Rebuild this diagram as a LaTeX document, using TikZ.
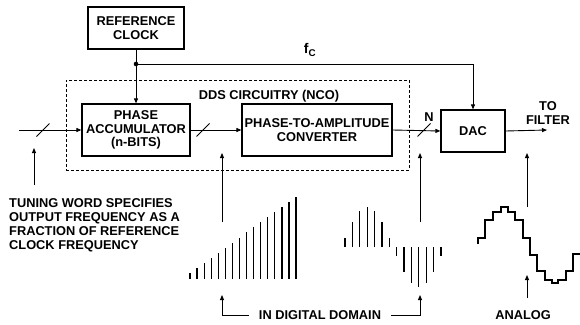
\documentclass[tikz,border=0pt]{standalone}
\usepackage{fontspec}
\setmainfont{Liberation Sans}
\usetikzlibrary{arrows.meta, positioning, calc}

\begin{document}
\begin{tikzpicture}[
        x=1pt, y=-1pt,
        block/.style={draw, line width=1.2pt, align=center, inner sep=0pt},
        sig/.style={line width=0.9pt, -{Triangle[length=5pt,width=4pt]}},
        bar/.style={line width=1.2pt},
        slash/.style={line width=0.9pt},
        every node/.style={font=\fontsize{12.8}{13.8}\selectfont\bfseries}
    ]
    \useasboundingbox (0,0) rectangle (580,324);

    % Blocks
    \node[block, minimum width=96pt, minimum height=42pt] (refclk) at (136,28) {REFERENCE\\CLOCK};
    \node[draw, dashed, line width=0.9pt, dash pattern=on 3pt off 2pt,
          minimum width=343pt, minimum height=90pt] (dds) at (237.5,125) {};
    \node (ddslabel) at (269,96) {DDS CIRCUITRY (NCO)};
    \node[block, minimum width=108pt, minimum height=52pt] (accum) at (136,130) {PHASE\\ACCUMULATOR\\(n-BITS)};
    \node[block, minimum width=150pt, minimum height=52pt] (p2a) at (317,130) {PHASE-TO-AMPLITUDE\\CONVERTER};
    \node[block, minimum width=64pt, minimum height=42pt] (dac) at (473,131) {DAC};

    % Signal path
    \coordinate (tw) at (19,130);
    \coordinate (out) at (547,130);
    \coordinate (tap) at (136,64);
    \draw[sig] (tw) -- (accum.west);
    \draw[sig] (accum.east) -- (p2a.west);
    \draw[sig] (p2a.east) -- (dac.west);
    \draw[sig] (dac.east) -- (out);
    \draw[sig] (refclk.south) -- (accum.north);
    \draw[sig] (tap) -| (dac.north);
    \fill (tap) circle (2.3pt);

    % Bus slashes
    \foreach \sx in {43,203,424}
        \draw[slash] (\sx,130) ++(-6.5,6.5) -- ++(13,-13);

    % Labels
    \node (fc) at (310,50) {\fontsize{14}{14}\selectfont f\textsubscript{C}};
    \node (nbits) at (429,117) {N};
    \node (filter) at (548,113) [align=center] {TO\\FILTER};
    \node (tuning) at (9,198.5) [anchor=north west, inner sep=0pt, align=left]
        {TUNING WORD SPECIFIES\\OUTPUT FREQUENCY AS A\\FRACTION OF REFERENCE\\CLOCK FREQUENCY};

    % Pointers
    \coordinate (twtail) at (34,185);
    \coordinate (twtip) at (34,148);
    \draw[sig] (twtail) -- (twtip);
    \draw[sig] (222,222) coordinate (ramptop) -- (222,153) coordinate (ramptip);
    \draw[sig] (420,222) coordinate (sinetop) -- (420,153) coordinate (sinetip);
    \draw[sig] (527,207) coordinate (stairtop) -- (527,153) coordinate (stairtip);

    % Phase ramp samples
    \foreach \i in {0,...,15}
        \draw[bar] ({190+7.07*\i},279) -- ++(0,{-(6+5.07*\i)});

    % Amplitude samples
    \foreach \i in {0,...,13}
        \draw[bar] ({345+7.38*\i},247) -- ++(0,{-40*sin((2*\i+1)*180/14)});

    % Analog staircase
    \draw[line width=1.2pt] (478,244) |- (485,238) |- (493,220) |- (501,212) |- (508,207)
        |- (515,212) |- (523,220) |- (530,238) |- (537,255) |- (545,271) |- (552,280)
        |- (558,283) |- (566,280) |- (573,271) |- (580,254);

    % Domain labels
    \node (digital) at (320,315) [inner sep=10pt] {IN DIGITAL DOMAIN};
    \coordinate (rampptr) at (222,295);
    \coordinate (sineptr) at (420,295);
    \draw[sig] (digital.west) -| (rampptr);
    \draw[sig] (digital.east) -| (sineptr);
    \node (analog) at (523,315) {ANALOG};
    \coordinate (anatail) at (527,298);
    \coordinate (anatip) at (527,275);
    \draw[sig] (anatail) -- (anatip);

\end{tikzpicture}
\end{document}
